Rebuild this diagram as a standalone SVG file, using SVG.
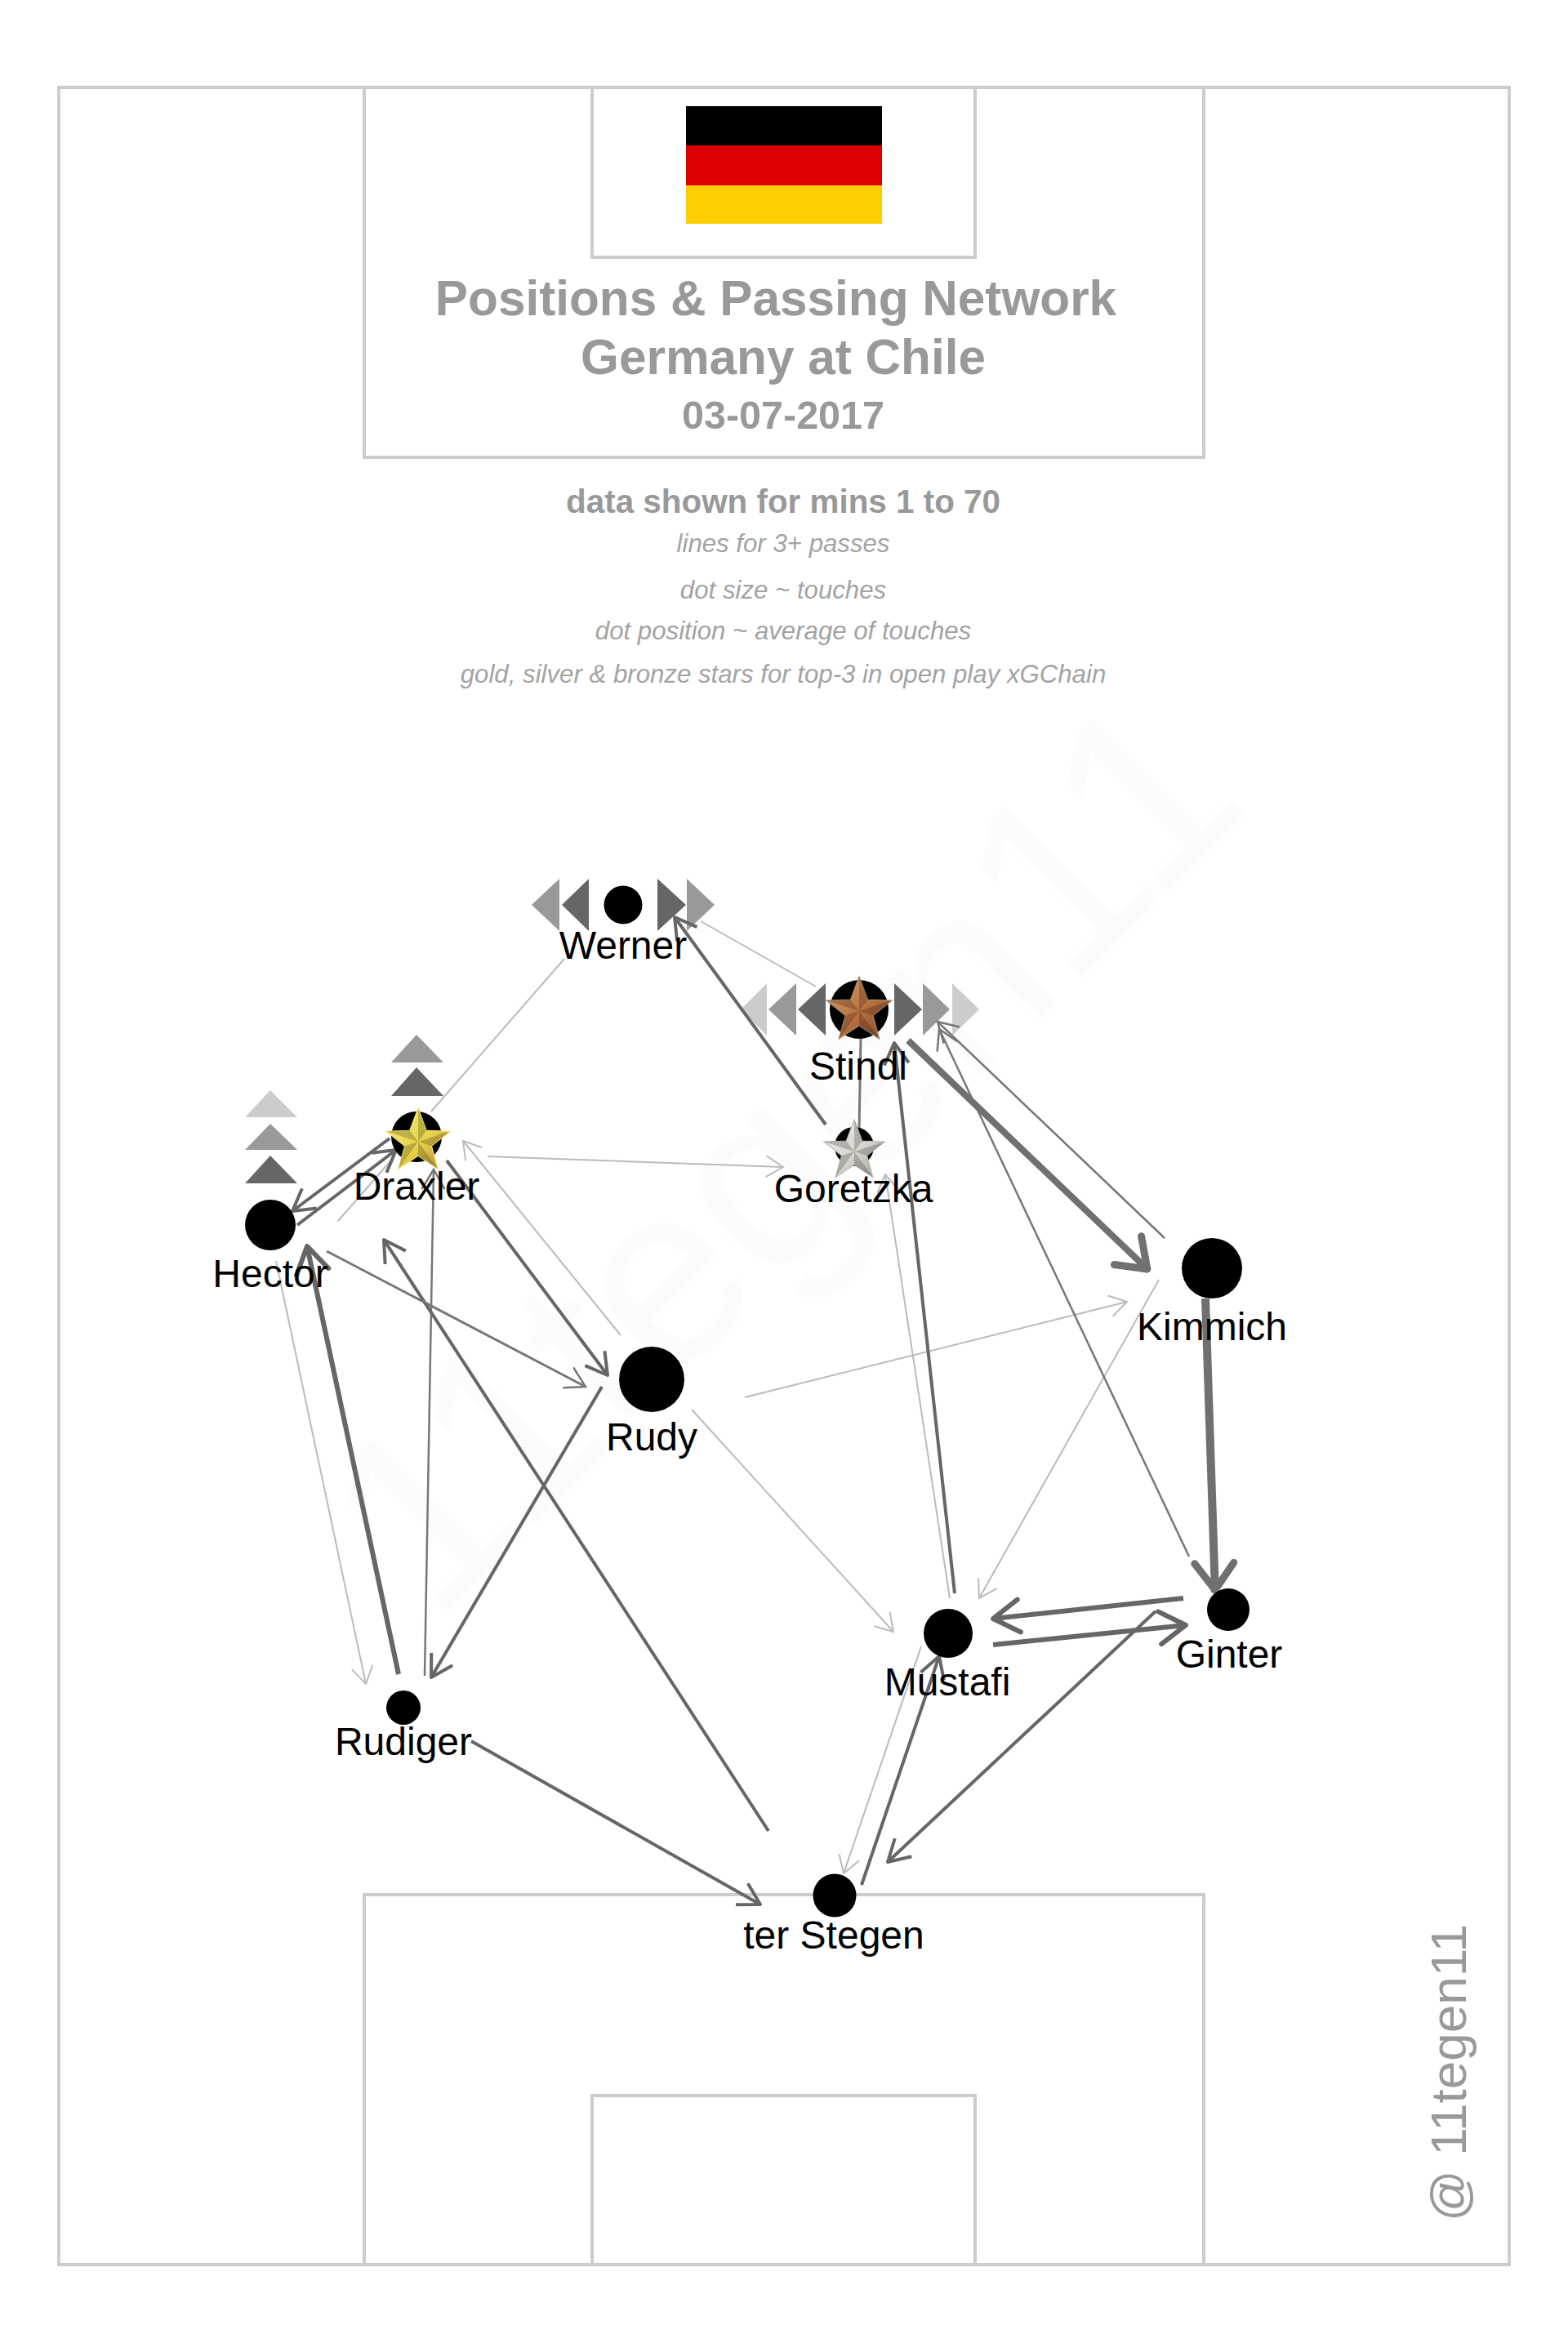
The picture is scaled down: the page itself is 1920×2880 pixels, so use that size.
<svg xmlns="http://www.w3.org/2000/svg" width="1920" height="2880" viewBox="0 0 1920 2880">
<defs>
<marker id="h1" viewBox="-30 -20 34 40" markerWidth="34" markerHeight="40" refX="0" refY="0" markerUnits="userSpaceOnUse" orient="auto"><path d="M-21 -13L0 0L-21 13" fill="none" stroke="#bbb" stroke-width="2"/></marker>
<marker id="h2" viewBox="-30 -20 34 40" markerWidth="34" markerHeight="40" refX="0" refY="0" markerUnits="userSpaceOnUse" orient="auto"><path d="M-24 -14L0 0L-24 14" fill="none" stroke="#777" stroke-width="2.500"/></marker>
<marker id="h3" viewBox="-32 -22 38 44" markerWidth="38" markerHeight="44" refX="0" refY="0" markerUnits="userSpaceOnUse" orient="auto"><path d="M-26 -15L0 0L-26 15" fill="none" stroke="#666" stroke-width="4" stroke-linejoin="round"/></marker>
<marker id="h4" viewBox="-44 -30 52 60" markerWidth="52" markerHeight="60" refX="0" refY="0" markerUnits="userSpaceOnUse" orient="auto"><path d="M-32 -20L0 0L-32 20" fill="none" stroke="#666" stroke-width="6" stroke-linejoin="round" stroke-linecap="round"/></marker>
<marker id="h5" viewBox="-50 -34 58 68" markerWidth="58" markerHeight="68" refX="0" refY="0" markerUnits="userSpaceOnUse" orient="auto"><path d="M-36 -24L-3 0L-36 24" fill="none" stroke="#707070" stroke-width="9" stroke-linecap="round" stroke-linejoin="round"/></marker>
<linearGradient id="gGold" x1="0" y1="0" x2="1" y2="1"><stop offset="0" stop-color="#f7ee7a"/><stop offset=".55" stop-color="#e8d34a"/><stop offset="1" stop-color="#b9873a"/></linearGradient>
<linearGradient id="gBronze" x1="0" y1="0" x2="1" y2="1"><stop offset="0" stop-color="#e0a070"/><stop offset=".55" stop-color="#b9703f"/><stop offset="1" stop-color="#7a4525"/></linearGradient>
<linearGradient id="gSilver" x1="0" y1="0" x2="1" y2="1"><stop offset="0" stop-color="#f0eeea"/><stop offset=".55" stop-color="#d8d4ce"/><stop offset="1" stop-color="#a39d96"/></linearGradient>
<path id="star" d="M0 -1L.25 -.33L.951 -.309L.4 .13L.588 .809L0 .42L-.588 .809L-.4 .13L-.951 -.309L-.25 -.33Z"/>
<path id="facet" d="M0 0L0 -1L.25 -.33ZM0 0L.951 -.309L.4 .13ZM0 0L.588 .809L0 .42ZM0 0L-.588 .809L-.4 .13ZM0 0L-.951 -.309L-.25 -.33Z" fill="#000" opacity=".2"/>
</defs>
<style>
.p{fill:none;stroke:#ccc;stroke-width:4}
.t{font-family:"Liberation Sans",Arial,sans-serif;fill:#999;text-anchor:middle}
.b{font-weight:bold}
.i{font-style:italic;font-size:31.200px;fill:#a3a3a3}
.l{font-family:"Liberation Sans",Arial,sans-serif;font-size:48px;fill:#000;text-anchor:middle}
.e1{fill:none;stroke:#bbb;stroke-width:2;marker-end:url(#h1)}
.e2{fill:none;stroke:#777;stroke-width:2.500;marker-end:url(#h2)}
.e3{fill:none;stroke:#666;stroke-width:4;marker-end:url(#h3)}
.e4{fill:none;stroke:#666;stroke-width:6;marker-end:url(#h4)}
.e5{fill:none;stroke:#707070;stroke-width:10;marker-end:url(#h5)}
.e6{fill:none;stroke:#707070;stroke-width:8;marker-end:url(#h5)}
.n1{fill:none;stroke:#bbb;stroke-width:2}
.n2{fill:none;stroke:#777;stroke-width:3}
.d{fill:#666}.m{fill:#999}.c{fill:#ccc}
</style>
<rect width="1920" height="2880" fill="#fff"/>
<text transform="translate(1535 985) rotate(-45)" font-family="Liberation Sans" font-size="310" fill="#fcfcfc" text-anchor="end">11tegen11</text>
<g id="pitch">
<rect class="p" x="72" y="107" width="1776" height="2666"/>
<path class="p" d="M446 107V560H1474V107M725 107V315H1194V107M446 2773V2320H1474V2773M725 2773V2566H1194V2773"/>
</g>
<g id="flag"><rect x="840" y="130" width="240" height="48.500" fill="#000"/><rect x="840" y="178" width="240" height="49" fill="#d00"/><rect x="840" y="227" width="240" height="47" fill="#ffce00"/></g>
<g id="title">
<text class="t b" x="950" y="386" font-size="60.300">Positions &amp; Passing Network</text>
<text class="t b" x="959" y="458" font-size="60.300">Germany at Chile</text>
<text class="t b" x="959" y="525" font-size="48.500">03-07-2017</text>
<text class="t b" x="959" y="628" font-size="40.400">data shown for mins 1 to 70</text>
<text class="t i" x="959" y="676">lines for 3+ passes</text>
<text class="t i" x="959" y="733">dot size ~ touches</text>
<text class="t i" x="959" y="783">dot position ~ average of touches</text>
<text class="t i" x="959" y="836">gold, silver &amp; bronze stars for top-3 in open play xGChain</text>
</g>
<text class="t" transform="translate(1795 2720) rotate(-90)" font-size="62" style="text-anchor:start">@ 11tegen11</text>
<g id="markers">
<path class="m" d="M651 1108L685 1076V1140Z"/><path class="d" d="M688 1108L721 1076V1140Z"/><path class="d" d="M805 1076L840 1108L805 1140Z"/><path class="m" d="M841 1076L875 1108L841 1140Z"/>
<path class="c" d="M907 1236L939 1204V1268Z"/><path class="m" d="M941 1236L975 1204V1268Z"/><path class="d" d="M977 1236L1011 1204V1268Z"/><path class="d" d="M1095 1204L1129 1236L1095 1268Z"/><path class="m" d="M1130 1204L1163 1236L1130 1268Z"/><path class="c" d="M1166 1204L1199 1236L1166 1268Z"/>
<path class="m" d="M510 1267L543 1301H479Z"/><path class="d" d="M510 1307L543 1342H479Z"/>
<path class="c" d="M331 1335L364 1368H300Z"/><path class="m" d="M331 1376L364 1408H300Z"/><path class="d" d="M331 1415L364 1449H300Z"/>
</g>
<g id="connectors">
<path class="n1" d="M691 1174L528 1361"/>
<path class="n1" d="M414 1495L477 1423"/>
<path class="n1" d="M999 1208L858 1128"/>
<path class="e3" d="M1011 1377L826 1123"/>
<path class="n2" d="M1054 1272L1052 1383"/>
<path class="e1" d="M597 1416L959 1429"/>
<path class="e1" d="M760 1635L567 1397"/>
<path class="e3" d="M547 1421L744 1684"/>
<path class="e2" d="M520 2052L531 1432"/>
<path class="e3" d="M941 2242L470 1518"/>
<path class="e2" d="M400 1532L717 1698" style="stroke-width:3"/>
<path class="e4" d="M488 2050L376 1526"/>
<path class="e1" d="M338 1544L448 2062"/>
<path class="e3" d="M737 1698L528 2054"/>
<path class="e3" d="M577 2132L931 2332"/>
<path class="e3" d="M364 1500L485 1408"/>
<path class="e3" d="M477 1394L358 1483"/>
<path class="e1" d="M847 1726L1094 1998"/>
<path class="e1" d="M912 1711L1380 1594"/>
<path class="e1" d="M1419 1567L1199 1957"/>
<path class="e5" d="M1476 1590L1488 1950"/>
<path class="e2" d="M1456 1906L1150 1260"/>
<path class="e2" d="M1426 1516L1148 1251"/>
<path class="e6" d="M1112 1274L1407 1556"/>
<path class="e3" d="M1169 1951L1095 1277"/>
<path class="e1" d="M1163 1957L1084 1438"/>
<path class="e4" d="M1449 1957L1216 1982"/>
<path class="e4" d="M1216 2014L1452 1990"/>
<path class="e3" d="M1415 1973L1087 2280"/>
<path class="e1" d="M1128 2016L1033 2294"/>
<path class="e3" d="M1055 2308L1150 2028"/>
</g>
<g id="werner"><circle cx="763" cy="1108" r="23.500"/><text class="l" x="763" y="1174">Werner</text></g>
<g id="hector"><circle cx="331" cy="1500" r="31"/><text class="l" x="331" y="1576">Hector</text></g>
<g id="draxler"><circle cx="510" cy="1392" r="31"/><g transform="translate(512 1398) scale(41)"><use href="#star" fill="url(#gGold)" stroke="#f3e66a" stroke-width=".03"/><use href="#facet"/></g><text class="l" x="510" y="1469">Draxler</text></g>
<g id="stindl"><circle cx="1052" cy="1236" r="36"/><g transform="translate(1052 1238) scale(42)"><use href="#star" fill="url(#gBronze)" stroke="#a98a6c" stroke-width=".03"/><use href="#facet"/></g><text class="l" x="1051" y="1322">Stindl</text></g>
<g id="goretzka"><circle cx="1046" cy="1404" r="24"/><g transform="translate(1046 1410) scale(39)"><use href="#star" fill="url(#gSilver)" stroke="#bbb" stroke-width=".03"/><use href="#facet"/></g><text class="l" x="1045" y="1472">Goretzka</text></g>
<g id="kimmich"><circle cx="1484" cy="1553" r="37"/><text class="l" x="1484" y="1641">Kimmich</text></g>
<g id="rudy"><circle cx="798" cy="1689" r="40"/><text class="l" x="798" y="1776">Rudy</text></g>
<g id="rudiger"><circle cx="494" cy="2091" r="21"/><text class="l" x="494" y="2149">Rudiger</text></g>
<g id="mustafi"><circle cx="1161" cy="2000" r="30"/><text class="l" x="1160" y="2076">Mustafi</text></g>
<g id="ginter"><circle cx="1504" cy="1971" r="26"/><text class="l" x="1505" y="2042">Ginter</text></g>
<g id="ter-stegen"><circle cx="1022" cy="2321" r="26.500"/><text class="l" x="1021" y="2386">ter Stegen</text></g>
</svg>
